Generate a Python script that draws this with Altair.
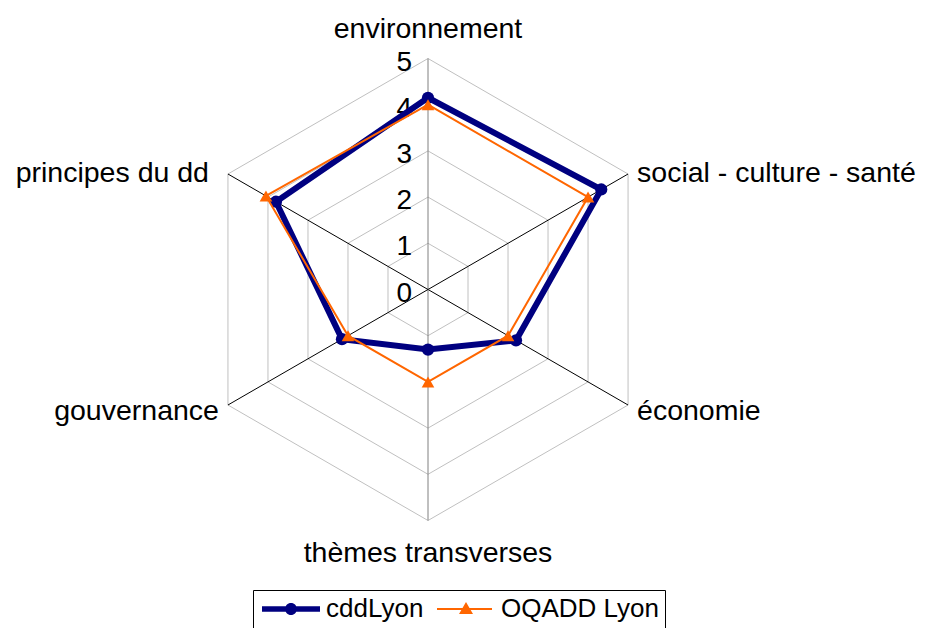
import altair as alt
import pandas as pd

# ---- data ----
categories = ["environnement", "social - culture - santé", "économie",
              "thèmes transverses", "gouvernance", "principes du dd"]
cdd_lyon = [4.15, 4.33, 2.2, 1.3, 2.15, 3.8]
oqadd_lyon = [4.0, 4.0, 2.0, 2.0, 2.0, 4.05]
series_names = ["cddLyon", "OQADD Lyon"]
levels = [0, 1, 2, 3, 4, 5]

# ---- style ----
NAVY = "#000080"
ORANGE = "#FF6600"
FONT = "Liberation Sans"
RMAX = 5
W, H = 911, 620
K = 46.2                      # pixels per unit
CX, CY = 420, 281.5           # centre inside the plot area
XDOM = [-CX / K, (W - CX) / K]
YDOM = [-(H - CY) / K, CY / K]

n = len(categories)
angles = [90 - 360 / n * i for i in range(n)]

rows = []
for name, vals in zip(series_names, [cdd_lyon, oqadd_lyon]):
    for i, (c, v) in enumerate(zip(categories, vals)):
        rows.append({"series": name, "category": c, "idx": i, "angle": angles[i], "value": v})
series_df = pd.DataFrame(rows)
grid_df = pd.DataFrame([{"level": l, "idx": i, "angle": angles[i]} for l in levels[1:] for i in range(n)])
spoke_df = pd.DataFrame({"idx": list(range(n)), "angle": angles, "category": categories, "value": [RMAX] * n})
tick_df = pd.DataFrame({"level": levels, "label": [str(l) for l in levels]})

xs = alt.Scale(domain=XDOM, nice=False, zero=False)
ys = alt.Scale(domain=YDOM, nice=False, zero=False)
X = alt.X("px:Q", scale=xs, axis=None)
Y = alt.Y("py:Q", scale=ys, axis=None)


def polar(chart, rfield):
    return chart.transform_calculate(
        px=f"datum.{rfield} * cos(datum.angle * PI / 180)",
        py=f"datum.{rfield} * sin(datum.angle * PI / 180)",
    )


grid = polar(alt.Chart(grid_df), "level").mark_line(
    interpolate="linear-closed", color="#C0C0C0", strokeWidth=1
).encode(x=X, y=Y, detail="level:N", order="idx:Q")

spokes = polar(alt.Chart(spoke_df), "value").transform_calculate(zero="0").mark_rule(strokeWidth=1).encode(
    x=alt.X("zero:Q", scale=xs, axis=None),
    y=alt.Y("zero:Q", scale=ys, axis=None),
    x2="px:Q", y2="py:Q",
    color=alt.condition("abs(cos(datum.angle * PI / 180)) < 0.01", alt.value("#808080"), alt.value("#000000")),
)

ticks = alt.Chart(tick_df).transform_calculate(zero="0").mark_text(
    align="right", baseline="alphabetic", dx=-16, dy=12, fontSize=28, font=FONT, color="black"
).encode(
    x=alt.X("zero:Q", scale=xs, axis=None),
    y=alt.Y("level:Q", scale=ys, axis=None),
    text="label:N",
)

label_style = {
    "environnement": ("center", 0, -21),
    "social - culture - santé": ("left", 9, 8),
    "économie": ("left", 9, 15),
    "thèmes transverses": ("center", 0, 41),
    "gouvernance": ("right", -9, 15),
    "principes du dd": ("right", -19, 8),
}
label_layers = []
for cat in categories:
    al, dx, dy = label_style[cat]
    label_layers.append(
        polar(alt.Chart(spoke_df), "value").transform_filter(alt.datum.category == cat).mark_text(
            align=al, baseline="alphabetic", dx=dx, dy=dy, fontSize=28.5, font=FONT, color="black"
        ).encode(x=X, y=Y, text="category:N")
    )


def series_layers(name, color, width, shape, size):
    base = polar(alt.Chart(series_df), "value").transform_filter(alt.datum.series == name)
    line = base.mark_line(interpolate="linear-closed", color=color, strokeWidth=width).encode(
        x=X, y=Y, order="idx:Q")
    pts = base.mark_point(filled=True, shape=shape, size=size, color=color, opacity=1).encode(x=X, y=Y)
    return [line, pts]


cdd = series_layers("cddLyon", NAVY, 6, "circle", 150)
oq = series_layers("OQADD Lyon", ORANGE, 2, "triangle-up", 160)

# legend symbols: 20px nominal symbol (10px per path unit), drawn 58px wide
sym_cdd = "M-1,-0.28H4.8V0.28H-1Z M2.5,0A0.6,0.6 0 1,1 1.3,0A0.6,0.6 0 1,1 2.5,0Z"
sym_oq = "M-1,-0.1H4.5V0.1H-1Z M1.9,-0.7L2.6,0.5H1.2Z"
leg = dict(
    title=None, orient="none", legendX=245, legendY=582, direction="horizontal",
    symbolSize=400, symbolStrokeWidth=0, symbolOpacity=1,
    labelFontSize=26, labelFont=FONT, labelColor="black", labelOffset=41,
    columnPadding=10, padding=6, strokeColor="black", fillColor="white",
)
legend_layer = polar(alt.Chart(series_df), "value").transform_filter("false").mark_point(filled=True).encode(
    x=X, y=Y,
    color=alt.Color("series:N", scale=alt.Scale(domain=series_names, range=[NAVY, ORANGE]), legend=alt.Legend(**leg)),
    shape=alt.Shape("series:N", scale=alt.Scale(domain=series_names, range=[sym_cdd, sym_oq]), legend=alt.Legend(**leg)),
)

chart = alt.layer(grid, spokes, ticks, *label_layers, *cdd, *oq, legend_layer).properties(
    width=W, height=H, autosize=alt.AutoSizeParams(type="none"), padding=0
).configure(background="white").configure_view(stroke=None)

chart.save("out.html", embed_options={"renderer": "svg", "actions": False})
